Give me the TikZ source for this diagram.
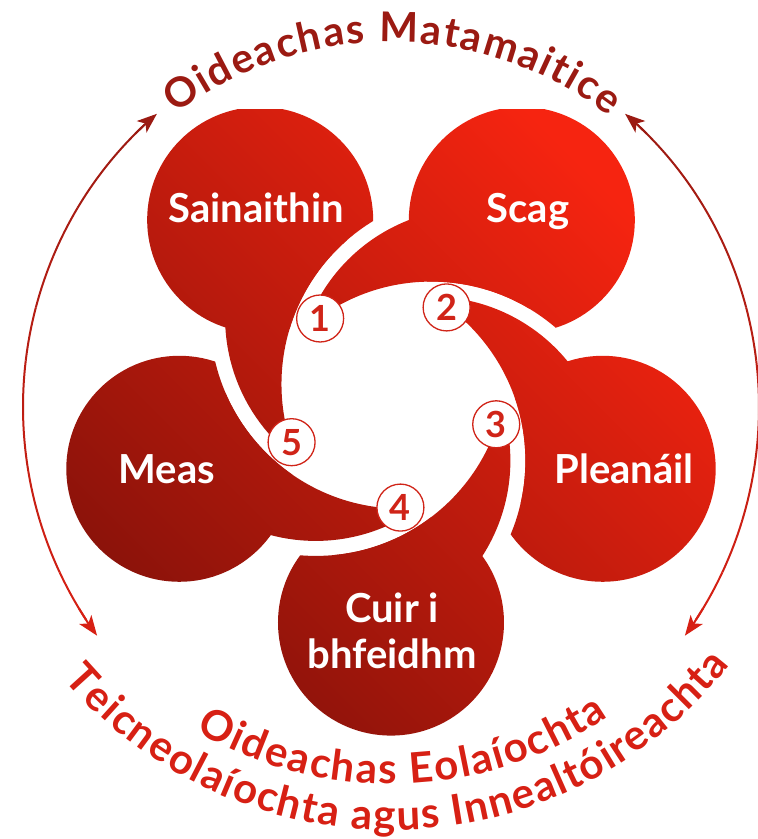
\documentclass[tikz,border=0pt]{standalone}
\usepackage{fontspec}
\setmainfont{Lato}
\usetikzlibrary{arrows.meta,decorations.text,calc}

\definecolor{petaldark}{RGB}{136,18,10}
\definecolor{petallight}{RGB}{246,36,16}
\definecolor{topred}{RGB}{155,26,18}
\definecolor{lowred}{RGB}{215,32,20}
\definecolor{badgered}{RGB}{208,36,24}

\begin{document}
\begin{tikzpicture}
[x=1pt, y=1pt,
    petaltext/.style={text=white, font=\fontsize{40}{46}\selectfont\bfseries, align=center},
    badge/.style={circle, draw=badgered, line width=1.3pt, fill=white,
    minimum size=47pt, inner sep=0pt, text=badgered, font=\fontsize{36}{36}\selectfont\bfseries},
    petalshade/.style={bottom color=petaldark, top color=petallight, shading angle=-45},
    arrowline/.style={line width=2pt},
    tip/.style={-{Stealth[length=20pt, width=15pt, inset=5pt]}}
    ]
    \useasboundingbox (-391,-439) rectangle (367,400);

    % petals: circle and tail, both cut by the inner circle
    \foreach \a in {126,54,-18,-90,-162}{
        \begin{scope}[even odd rule]
            \clip (-400,-450) rectangle (400,450) (\a-115:83) circle[radius=191];
            \begin{scope}[nonzero rule]
                \clip (\a:222.6) circle[radius=113];
                \shade[petalshade] (-325,-336) rectangle (325,291);
            \end{scope}
            \begin{scope}[nonzero rule]
                \clip (\a-43:83) ++(\a+107.7:176) arc[start angle=\a+107.7, end angle=\a+40, radius=176]
                    -- ($(\a-115:83)+(\a+5:191)$) arc[start angle=\a+5, end angle=\a+77.2, radius=191] -- cycle;
                \shade[petalshade] (-325,-336) rectangle (325,291);
            \end{scope}
        \end{scope}
    }

    \foreach \n in {1,...,5}
        \node[badge] (b\n) at ({131-72*(\n-1)}:108) {\n};

    \node[petaltext, anchor=base] (sainaithin) at (-135,178) {Sainaithin};
    \node[petaltext, anchor=base] (scag) at (137,178) {Scag};
    \node[petaltext, anchor=base] (pleanail) at (233,-83) {Pleanáil};
    \node[petaltext, anchor=base] (meas) at (-224,-83) {Meas};
    \node[petaltext, anchor=base] (cuir) at (1,-268) {Cuir i\\bhfeidhm};

    % side arrows
    \foreach \i [evaluate=\i as \ta using 132+8.2*\i, evaluate=\i as \tb using 132+8.2*(\i+1),
                 evaluate=\i as \p using int(10*\i+5)] in {0,...,9}{
        \draw[arrowline, lowred!\p!topred] (0,-7) ++(\ta:368 and 380)
            arc[start angle=\ta, end angle=\tb, x radius=368, y radius=380];
        \draw[arrowline, lowred!\p!topred] (0,-7) ++(180-\ta:368 and 380)
            arc[start angle=180-\ta, end angle=180-\tb, x radius=368, y radius=380];
    }
    \draw[arrowline, topred, tip] (0,-7) ++(134:368 and 380) arc[start angle=134, end angle=129.5, x radius=368, y radius=380];
    \draw[arrowline, topred, tip] (0,-7) ++(46:368 and 380) arc[start angle=46, end angle=50.5, x radius=368, y radius=380];
    \draw[arrowline, lowred, tip] (0,-7) ++(212:368 and 380) arc[start angle=212, end angle=217, x radius=368, y radius=380];
    \draw[arrowline, lowred, tip] (0,-7) ++(-32:368 and 380) arc[start angle=-32, end angle=-37, x radius=368, y radius=380];

    % curved titles
    \path[decorate, decoration={text along path, text align={fit to path}, text color=topred,
        text={|\fontsize{41}{41}\selectfont\bfseries|Oideachas Matamaitice}}]
        (127:358) arc[start angle=127, end angle=52.5, radius=358];
    \path[decorate, decoration={text along path, text align={fit to path}, text color=lowred,
        text={|\fontsize{42}{42}\selectfont\bfseries|Oideachas Eolaíochta}}]
        (239.5:384) arc[start angle=239.5, end angle=304.5, radius=384];
    \path[decorate, decoration={text along path, text align={fit to path}, text color=lowred,
        text={|\fontsize{42}{42}\selectfont\bfseries|Teicneolaíochta agus Innealtóireachta}}]
        (220.5:430) arc[start angle=220.5, end angle=322, radius=430];
\end{tikzpicture}
\end{document}
